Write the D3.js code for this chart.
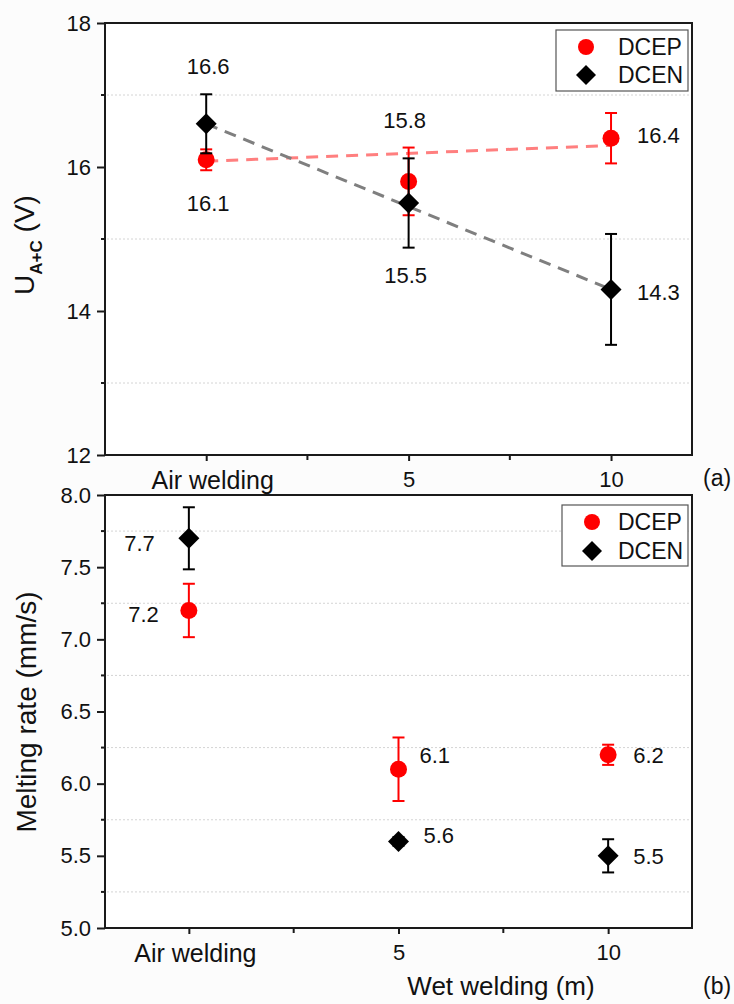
<!DOCTYPE html>
<html>
<head>
<meta charset="utf-8">
<script src="https://cdn.jsdelivr.net/npm/d3@7/dist/d3.min.js"></script>
<style>
  html, body { margin: 0; padding: 0; background: #fcfcfc; }
  svg { display: block; font-family: Arial, "Liberation Sans", sans-serif; }
</style>
</head>
<body>
<svg id="chart" width="734" height="1004"></svg>
<script>
// Welding conditions: air welding plotted at 0, wet welding depths in m
const categories = ["Air welding", "5", "10"];
const xPositions = [0, 5, 10];
const minorX = [2.5, 7.5];

// Arc voltage U(A+C), V
const voltageTicks = [12, 14, 16, 18];
const voltageMinor = [13, 15, 17];
const dcepVoltage = [16.1, 15.8, 16.4];
const dcepVoltageErr = [0.145, 0.47, 0.35];
const dcenVoltage = [16.6, 15.5, 14.3];
const dcenVoltageErr = [0.41, 0.62, 0.77];
// dashed trend guides, values at x = 0 and x = 10
const dcepTrend = [16.08, 16.30];
const dcenTrend = [16.6, 14.3];

// Melting rate, mm/s
const meltTicks = [5.0, 5.5, 6.0, 6.5, 7.0, 7.5, 8.0];
const meltMinor = [5.25, 5.75, 6.25, 6.75, 7.25, 7.75];
const dcepMelt = [7.2, 6.1, 6.2];
const dcepMeltErr = [0.185, 0.22, 0.07];
const dcenMelt = [7.7, 5.6, 5.5];
const dcenMeltErr = [0.215, 0.03, 0.115];

const seriesNames = ["DCEP", "DCEN"];

const RED = "#ff0000";
const BLACK = "#000000";
const AXIS = "#1a1a1a";

const svg = d3.select("#chart");

// label placement: [anchor, dx, dy of the label centre] relative to the mark
const voltageLabelPos = {
  DCEP: [["middle", 2, 43], ["middle", -4, -61], ["start", 26, -3]],
  DCEN: [["middle", 2, -58], ["middle", -3, 72], ["start", 26, 3]]
};
const meltLabelPos = {
  DCEP: [["end", -30, 4], ["start", 21, -14], ["start", 25, 0]],
  DCEN: [["end", -34, 5], ["start", 25, -6], ["start", 25, 0]]
};

function panel(cfg) {
  const g = svg.append("g");
  const x = d3.scaleLinear().domain(cfg.xDomain).range([cfg.left, cfg.right]);
  const y = d3.scaleLinear().domain(cfg.yDomain).range([cfg.bottom, cfg.top]);

  // white plotting area
  g.append("rect")
    .attr("x", cfg.left).attr("y", cfg.top)
    .attr("width", cfg.right - cfg.left).attr("height", cfg.bottom - cfg.top)
    .attr("fill", "#ffffff");

  // dotted grid at minor y positions
  g.append("g").selectAll("line").data(cfg.yMinor).join("line")
    .attr("x1", cfg.left + 2).attr("x2", cfg.right - 2)
    .attr("y1", d => y(d)).attr("y2", d => y(d))
    .attr("stroke", "#d4d4d4").attr("stroke-width", 1)
    .attr("stroke-dasharray", "2,2");

  // left axis
  const yAxis = d3.axisLeft(y).tickValues(cfg.yTicks)
    .tickFormat(cfg.yFormat).tickSize(8).tickPadding(6);
  const ya = g.append("g").attr("transform", `translate(${cfg.left},0)`).call(yAxis);
  ya.select(".domain").remove();
  ya.selectAll("line").attr("stroke", AXIS).attr("stroke-width", 2);
  ya.selectAll("text").attr("font-size", 22).attr("fill", "#111")
    .attr("font-family", "Arial, 'Liberation Sans', sans-serif");
  g.append("g").selectAll("line").data(cfg.yMinor).join("line")
    .attr("x1", cfg.left - 4).attr("x2", cfg.left)
    .attr("y1", d => y(d)).attr("y2", d => y(d))
    .attr("stroke", AXIS).attr("stroke-width", 2);

  // bottom axis
  const xAxis = d3.axisBottom(x).tickValues(xPositions)
    .tickFormat((d, i) => categories[i]).tickSize(6).tickPadding(10);
  const xa = g.append("g").attr("transform", `translate(0,${cfg.bottom})`).call(xAxis);
  xa.select(".domain").remove();
  xa.selectAll("line").attr("stroke", AXIS).attr("stroke-width", 2);
  xa.selectAll("text").attr("fill", "#111")
    .attr("font-size", (d, i) => i === 0 ? 25 : 22)
    .attr("font-family", "Arial, 'Liberation Sans', sans-serif")
    .attr("dx", (d, i) => i === 0 ? 6 : 0);
  g.append("g").selectAll("line").data(minorX).join("line")
    .attr("x1", d => x(d)).attr("x2", d => x(d))
    .attr("y1", cfg.bottom).attr("y2", cfg.bottom + 5)
    .attr("stroke", AXIS).attr("stroke-width", 2);

  // frame
  g.append("rect")
    .attr("x", cfg.left).attr("y", cfg.top)
    .attr("width", cfg.right - cfg.left).attr("height", cfg.bottom - cfg.top)
    .attr("fill", "none").attr("stroke", AXIS).attr("stroke-width", 2);

  // dashed trend guides
  (cfg.trends || []).forEach(t => {
    g.append("line")
      .attr("x1", x(xPositions[0])).attr("y1", y(t.values[0]))
      .attr("x2", x(xPositions[2])).attr("y2", y(t.values[1]))
      .attr("stroke", t.color).attr("stroke-width", 3)
      .attr("stroke-dasharray", "12,8");
  });

  // series: error bars, markers, value labels
  cfg.series.forEach(s => {
    const pts = s.values.map((v, i) => ({ x: xPositions[i], v, e: s.err[i], i }));
    const eb = g.append("g").attr("stroke", s.color).attr("stroke-width", 2);
    eb.selectAll(".stem").data(pts).join("line")
      .attr("x1", d => x(d.x)).attr("x2", d => x(d.x))
      .attr("y1", d => y(d.v + d.e)).attr("y2", d => y(d.v - d.e));
    eb.selectAll(".capTop").data(pts).join("line")
      .attr("x1", d => x(d.x) - 6).attr("x2", d => x(d.x) + 6)
      .attr("y1", d => y(d.v + d.e)).attr("y2", d => y(d.v + d.e));
    eb.selectAll(".capBot").data(pts).join("line")
      .attr("x1", d => x(d.x) - 6).attr("x2", d => x(d.x) + 6)
      .attr("y1", d => y(d.v - d.e)).attr("y2", d => y(d.v - d.e));

    const sym = s.shape === "circle"
      ? d3.symbol(d3.symbolCircle, Math.PI * 8.5 * 8.5)
      : d3.symbol(d3.symbolSquare, 2 * 10.5 * 10.5);
    g.append("g").selectAll("path").data(pts).join("path")
      .attr("d", sym)
      .attr("fill", s.color)
      .attr("transform", d => `translate(${x(d.x)},${y(d.v)})` + (s.shape === "circle" ? "" : " rotate(45)"));

    g.append("g").selectAll("text").data(pts).join("text")
      .attr("x", d => x(d.x) + s.labels[d.i][1])
      .attr("y", d => y(d.v) + s.labels[d.i][2] + 8)
      .attr("text-anchor", d => s.labels[d.i][0])
      .attr("font-size", 22).attr("fill", "#111")
      .text(d => d3.format(".1f")(d.v));
  });

  // legend
  const L = cfg.legend;
  g.append("rect").attr("x", L.x).attr("y", L.y).attr("width", L.w).attr("height", L.h)
    .attr("fill", "#ffffff").attr("stroke", "#555").attr("stroke-width", 1.2);
  seriesNames.forEach((name, i) => {
    const cy = L.y + L.firstRow + i * L.rowGap;
    const shape = i === 0 ? d3.symbol(d3.symbolCircle, Math.PI * 8 * 8)
                          : d3.symbol(d3.symbolSquare, 2 * 10 * 10);
    g.append("path").attr("d", shape)
      .attr("fill", i === 0 ? RED : BLACK)
      .attr("transform", `translate(${L.x + L.symX},${cy})` + (i === 0 ? "" : " rotate(45)"));
    g.append("text").attr("x", L.x + L.textX).attr("y", cy + 8)
      .attr("font-size", 23).attr("fill", "#111").text(name);
  });

  return { x, y };
}

// (a) arc voltage
panel({
  left: 105, right: 692, top: 23, bottom: 455,
  xDomain: [-2.5, 12], yDomain: [12, 18],
  yTicks: voltageTicks, yMinor: voltageMinor, yFormat: d3.format("d"),
  trends: [
    { values: dcepTrend, color: "#ff7f7f" },
    { values: dcenTrend, color: "#7f7f7f" }
  ],
  series: [
    { name: "DCEP", values: dcepVoltage, err: dcepVoltageErr, color: RED, shape: "circle", labels: voltageLabelPos.DCEP },
    { name: "DCEN", values: dcenVoltage, err: dcenVoltageErr, color: BLACK, shape: "diamond", labels: voltageLabelPos.DCEN }
  ],
  legend: { x: 556, y: 30, w: 132, h: 61, symX: 30, textX: 62, firstRow: 17, rowGap: 28 }
});

// (b) melting rate
panel({
  left: 105, right: 692, top: 495, bottom: 928,
  xDomain: [-2, 12], yDomain: [5, 8],
  yTicks: meltTicks, yMinor: meltMinor, yFormat: d3.format(".1f"),
  series: [
    { name: "DCEP", values: dcepMelt, err: dcepMeltErr, color: RED, shape: "circle", labels: meltLabelPos.DCEP },
    { name: "DCEN", values: dcenMelt, err: dcenMeltErr, color: BLACK, shape: "diamond", labels: meltLabelPos.DCEN }
  ],
  legend: { x: 562, y: 505, w: 126, h: 61, symX: 30, textX: 56, firstRow: 17, rowGap: 29 }
});

// axis titles and panel tags
const ua = svg.append("text")
  .attr("transform", "translate(34,245) rotate(-90)")
  .attr("text-anchor", "middle").attr("font-size", 28).attr("fill", "#111");
ua.append("tspan").text("U");
ua.append("tspan").attr("dy", 8).attr("font-size", 17).attr("font-weight", "bold").text("A+C");
ua.append("tspan").attr("dy", -8).text(" (V)");

svg.append("text")
  .attr("transform", "translate(36,712) rotate(-90)")
  .attr("text-anchor", "middle").attr("font-size", 28).attr("fill", "#111")
  .text("Melting rate (mm/s)");

svg.append("text").attr("x", 501).attr("y", 995)
  .attr("text-anchor", "middle").attr("font-size", 26).attr("fill", "#111")
  .text("Wet welding (m)");

svg.append("text").attr("x", 703).attr("y", 486)
  .attr("font-size", 23).attr("fill", "#111").text("(a)");
svg.append("text").attr("x", 703).attr("y", 994)
  .attr("font-size", 23).attr("fill", "#111").text("(b)");
</script>
</body>
</html>
